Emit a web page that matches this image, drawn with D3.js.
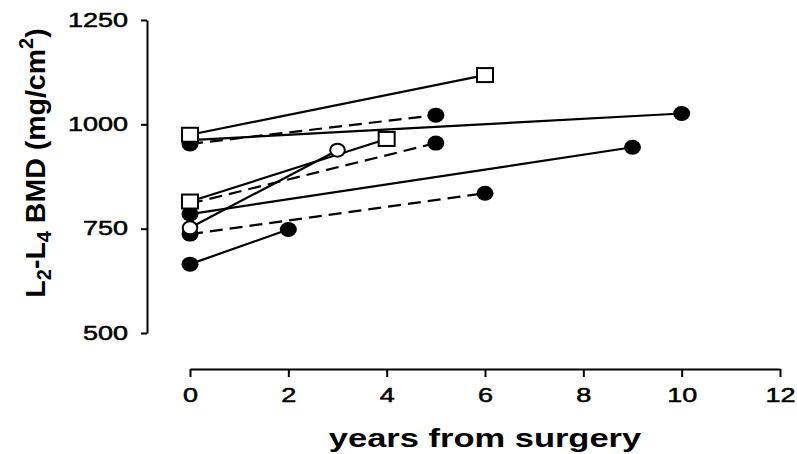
<!DOCTYPE html>
<html>
<head>
<meta charset="utf-8">
<script src="https://d3js.org/d3.v7.min.js"></script>
<style>
  body { margin: 0; background: #fff; }
  text { font-family: "Liberation Sans", Arial, sans-serif; fill: #000; }
</style>
</head>
<body>
<svg width="797" height="454"></svg>
<script>
  // one line per patient: BMD at surgery (year 0) and at follow-up
  var startBMD = [975, 815, 752, 953, 962, 810, 785, 737, 665];
  var endYear  = [6, 4, 3, 5, 10, 5, 9, 6, 2];
  var endBMD   = [1118, 965, 938, 1022, 1026, 955, 945, 835, 748];
  var marker   = ["square", "square", "circle", "dot", "dot", "dot", "dot", "dot", "dot"];
  var linePattern = ["solid", "solid", "solid", "dashed", "solid", "dashed", "solid", "dashed", "solid"];

  var xTicks = [0, 2, 4, 6, 8, 10, 12];
  var yTicks = [500, 750, 1000, 1250];

  var svg = d3.select("svg"),
    width = +svg.attr("width"),
    height = +svg.attr("height");

  var stretch = 1.4; // the scanned text is wider than normal

  var xscale = d3.scaleLinear().domain([0, 12]).range([190, 780]);
  var yscale = d3.scaleLinear().domain([500, 1250]).range([333, 20]);

  var sdata = startBMD.map(function(v, i) {
    return { y0: v, x1: endYear[i], y1: endBMD[i], marker: marker[i], pattern: linePattern[i] };
  });

  //axes
  var gx = svg.append("g")
    .attr("transform", "translate(0,369)")
    .call(d3.axisBottom(xscale).tickValues(xTicks).tickFormat(d3.format("d")).tickSize(8).tickSizeOuter(0));
  gx.selectAll("text")
    .attr("y", 19)
    .attr("font-size", 19.3)
    .attr("stroke", "#000").attr("stroke-width", 0.5)
    .attr("transform", "scale(" + stretch + ",1)");

  var gy = svg.append("g")
    .attr("transform", "translate(147,0)")
    .call(d3.axisLeft(yscale).tickValues(yTicks).tickFormat(d3.format("d")).tickSize(6).tickSizeOuter(0));
  gy.selectAll("text")
    .attr("x", -19 / stretch)
    .attr("font-size", 19.3)
    .attr("stroke", "#000").attr("stroke-width", 0.5)
    .attr("transform", "scale(" + stretch + ",1)");

  svg.selectAll(".domain, .tick line")
    .attr("stroke", "#000")
    .attr("stroke-width", 2);

  //axis titles
  svg.append("text")
    .attr("transform", "translate(485,446.5) scale(1.38,1)")
    .attr("text-anchor", "middle")
    .attr("font-size", 25)
    .attr("font-weight", "bold")
    .text("years from surgery");

  var ylab = svg.append("text")
    .attr("transform", "translate(45,163) rotate(-90)")
    .attr("text-anchor", "middle")
    .attr("font-size", 28.5)
    .attr("font-weight", "bold");
  ylab.append("tspan").text("L");
  ylab.append("tspan").attr("font-size", 20).attr("dy", 6).text("2");
  ylab.append("tspan").attr("dy", -6).text("-L");
  ylab.append("tspan").attr("font-size", 20).attr("dy", 6).text("4");
  ylab.append("tspan").attr("dy", -6).text(" BMD (mg/cm");
  ylab.append("tspan").attr("font-size", 20).attr("dy", -12).text("2");
  ylab.append("tspan").attr("dy", 12).text(")");

  //lines
  svg.append("g").selectAll("line")
    .data(sdata).enter().append("line")
    .attr("x1", xscale(0))
    .attr("y1", function(d) { return yscale(d.y0); })
    .attr("x2", function(d) { return xscale(d.x1); })
    .attr("y2", function(d) { return yscale(d.y1); })
    .attr("stroke", "#000")
    .attr("stroke-width", 2.2)
    .attr("stroke-dasharray", function(d) { return d.pattern == "dashed" ? "13,7" : null; });

  //markers at both ends, filled dots first so the open ones sit on top
  var points = [];
  sdata.forEach(function(d) {
    points.push({ x: 0, y: d.y0, marker: d.marker });
    points.push({ x: d.x1, y: d.y1, marker: d.marker });
  });
  var order = { dot: 0, circle: 1, square: 2 };
  points.sort(function(a, b) { return order[a.marker] - order[b.marker]; });

  var gm = svg.append("g");
  points.forEach(function(p) {
    var cx = xscale(p.x), cy = yscale(p.y);
    if (p.marker == "dot") {
      gm.append("ellipse").attr("cx", cx).attr("cy", cy)
        .attr("rx", 8.5).attr("ry", 7.5).attr("fill", "#000");
    } else if (p.marker == "circle") {
      gm.append("ellipse").attr("cx", cx).attr("cy", cy)
        .attr("rx", 7.3).attr("ry", 6.5)
        .attr("fill", "#fff").attr("stroke", "#000").attr("stroke-width", 2);
    } else {
      gm.append("rect").attr("x", cx - 8).attr("y", cy - 7)
        .attr("width", 16).attr("height", 14)
        .attr("fill", "#fff").attr("stroke", "#000").attr("stroke-width", 2);
    }
  });
</script>
</body>
</html>
